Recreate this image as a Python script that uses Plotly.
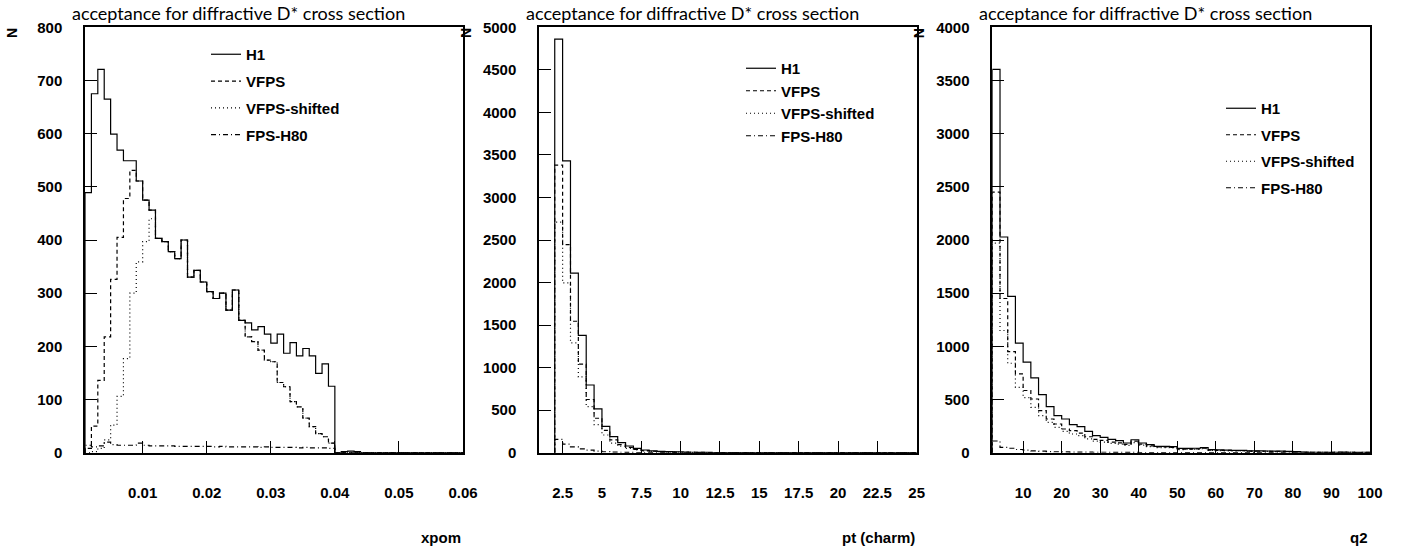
import numpy as np
import plotly.graph_objects as go

# ---------------- data ----------------
series_names = ["H1", "VFPS", "VFPS-shifted", "FPS-H80"]

# xpom: bins of 0.001 starting at 0.001 (59 bins up to 0.06)
xpom_lo, xpom_bw, xpom_nb = 0.001, 0.001, 59
xpom_h1 = [489, 675, 721, 665, 599, 569, 549, 549, 511, 475, 456, 403, 397, 378, 365, 400, 330, 343,
           321, 303, 290, 300, 268, 306, 249, 244, 231, 237, 223, 206, 223, 187, 207, 182, 196, 182,
           149, 167, 125, 0, 2, 3, 2]
xpom_vfps = [8, 50, 136, 218, 326, 405, 478, 531, 511, 475, 456, 403, 397, 378, 365, 400, 330, 343,
             321, 303, 290, 300, 268, 306, 249, 218, 209, 193, 174, 171, 132, 124, 96, 86, 65, 49,
             36, 30, 18]
xpom_shift = [0, 2, 8, 24, 52, 106, 177, 300, 359, 397, 440, 403, 397, 378, 365, 400, 330, 343,
              321, 303, 290, 300, 268, 306, 249, 218, 209, 193, 174, 171, 132, 124, 96, 86, 65, 49,
              36, 30, 18]
xpom_fps = [14, 11, 13, 20, 15, 14, 14, 14, 18, 14, 13, 13, 13, 13, 12, 12, 12, 12, 12, 12, 11, 12,
            11, 11, 11, 11, 11, 10, 11, 10, 10, 10, 10, 9, 10, 9, 9, 9, 8]

# pt (charm): bins of 0.5 starting at 2.0 (46 bins up to 25)
pt_lo, pt_bw, pt_nb = 2.0, 0.5, 46
pt_h1 = [4860, 3430, 2110, 1380, 796, 515, 310, 188, 118, 79, 51, 32, 22, 15, 12, 10, 8, 5, 4, 3,
         2, 2, 1, 1]
pt_vfps = [3380, 2445, 1545, 1040, 625, 405, 262, 150, 95, 62, 40, 25, 17, 12, 9, 7, 6, 4, 3, 2,
           2, 1, 1]
pt_shift = [2710, 1995, 1290, 892, 541, 330, 208, 112, 78, 50, 32, 20, 14, 10, 7, 6, 5, 3, 2, 2,
            1, 1]
pt_fps = [157, 100, 68, 45, 30, 18, 11, 7, 5, 3, 2, 1, 1, 1]

# q2: bins of 2 starting at 2 (49 bins up to 100)
q2_lo, q2_bw, q2_nb = 2.0, 2.0, 49
q2_h1 = [3604, 2028, 1469, 1030, 851, 703, 546, 433, 348, 317, 264, 245, 201, 160, 144, 125, 113,
         91, 122, 91, 75, 60, 60, 58, 40, 40, 42, 48, 28, 26, 24, 22, 22, 18, 17, 16, 15, 15, 12,
         10, 5, 4, 4, 3, 4, 5, 4, 3, 4]
q2_vfps = [2450, 1450, 950, 741, 585, 505, 396, 317, 270, 223, 207, 185, 150, 125, 115, 100, 92,
           78, 108, 80, 64, 54, 54, 51, 33, 34, 36, 42, 24, 22, 21, 19, 19, 15, 15, 14, 13, 13, 10,
           8, 4, 3, 3, 3, 3, 4, 3, 2, 3]
q2_shift = [1970, 1149, 841, 615, 518, 427, 348, 286, 238, 201, 176, 160, 130, 108, 100, 88, 80,
            68, 95, 72, 58, 48, 48, 46, 29, 30, 32, 37, 21, 19, 18, 17, 17, 13, 13, 12, 11, 11, 9,
            7, 4, 3, 3, 2, 3, 3, 3, 2, 2]
q2_fps = [110, 50, 42, 30, 24, 18, 14, 11, 9, 8, 6, 5, 5, 4, 4, 3, 3, 3, 3, 2, 2, 2, 2, 2, 1, 1,
          1, 1, 1, 1, 1, 1, 1, 1, 0, 1]

xpom_ticks = [0.01, 0.02, 0.03, 0.04, 0.05, 0.06]
xpom_ticktext = ["0.01", "0.02", "0.03", "0.04", "0.05", "0.06"]
pt_ticks = [2.5, 5, 7.5, 10, 12.5, 15, 17.5, 20, 22.5, 25]
pt_ticktext = ["2.5", "5", "7.5", "10", "12.5", "15", "17.5", "20", "22.5", "25"]
q2_ticks = [10, 20, 30, 40, 50, 60, 70, 80, 90, 100]
q2_ticktext = ["10", "20", "30", "40", "50", "60", "70", "80", "90", "100"]

axis_titles = ["xpom", "pt (charm)", "q2"]
plot_title = "acceptance for diffractive D* cross section"

# ---------------- figure ----------------
W, H = 1417, 547
FONT = "Liberation Sans, Arial, Helvetica, sans-serif"
dashes = ["solid", "4px,3px", "1px,3px", "5px,3px,1px,3px"]


def step(lo, bw, nb, vals):
    v = list(vals) + [0] * (nb - len(vals))
    edges = lo + bw * np.arange(nb + 1)
    xs = [edges[0]] + list(edges[:-1]) + [edges[-1], edges[-1]]
    ys = [0] + v + [v[-1], 0]
    return xs, ys


panels = [
    dict(lo=xpom_lo, bw=xpom_bw, nb=xpom_nb, data=[xpom_h1, xpom_vfps, xpom_shift, xpom_fps],
         xr=[0.001, 0.06], yr=[0, 800], ydt=100, tv=xpom_ticks, tt=xpom_ticktext),
    dict(lo=pt_lo, bw=pt_bw, nb=pt_nb, data=[pt_h1, pt_vfps, pt_shift, pt_fps],
         xr=[1, 25], yr=[0, 5000], ydt=500, tv=pt_ticks, tt=pt_ticktext),
    dict(lo=q2_lo, bw=q2_bw, nb=q2_nb, data=[q2_h1, q2_vfps, q2_shift, q2_fps],
         xr=[2, 100], yr=[0, 4000], ydt=500, tv=q2_ticks, tt=q2_ticktext),
]

lefts = [85, 539, 992.3]
rights = [463, 916.7, 1370]
ybot, ytop = 452.7, 27.3
legend_pos = [(206, 38), (741, 52), (1221, 92)]
legend_gap = [4.3, 0, 4.0]

fig = go.Figure()
layout = dict(width=W, height=H, margin=dict(l=0, r=0, t=0, b=0, pad=0, autoexpand=False),
              paper_bgcolor="white", plot_bgcolor="white", showlegend=True)
annotations = []

for i, p in enumerate(panels):
    sfx = "" if i == 0 else str(i + 1)
    leg = "legend" if i == 0 else "legend" + str(i + 1)
    for k, vals in enumerate(p["data"]):
        xs, ys = step(p["lo"], p["bw"], p["nb"], vals)
        fig.add_trace(go.Scatter(
            x=xs, y=ys, mode="lines", line=dict(color="black", width=1.2, dash=dashes[k], shape="hv"),
            name=series_names[k], xaxis="x" + sfx, yaxis="y" + sfx, legend=leg,
            legendgroup=f"p{i}s{k}", hoverinfo="skip"))
    common = dict(showgrid=False, zeroline=False, showline=True, linecolor="black", linewidth=1.5,
                  mirror=True, ticks="inside", tickcolor="black", tickwidth=1, automargin=False,
                  tickfont=dict(family=FONT, size=15, color="black", weight="bold"))
    layout["xaxis" + sfx] = dict(domain=[lefts[i] / W, rights[i] / W], range=p["xr"],
                                 anchor="y" + sfx, tickvals=p["tv"], ticktext=p["tt"],
                                 ticklen=12, ticklabelstandoff=26, **common)
    layout["yaxis" + sfx] = dict(domain=[1 - ybot / H, 1 - ytop / H], range=p["yr"],
                                 anchor="x" + sfx, dtick=p["ydt"], tick0=0, ticklen=12,
                                 ticklabelstandoff=18, **common)
    lx, ly = legend_pos[i]
    layout[leg] = dict(x=lx / W, y=1 - ly / H, xanchor="left", yanchor="top",
                       bgcolor="rgba(0,0,0,0)", borderwidth=0, traceorder="grouped",
                       tracegroupgap=legend_gap[i],
                       font=dict(family=FONT, size=15, color="black", weight="bold"))
    annotations.append(dict(text=plot_title, xref="paper", yref="paper", x=(lefts[i] - 15) / W,
                            y=1 - 13 / H, xanchor="left", yanchor="middle", showarrow=False,
                            font=dict(family="Lato, DejaVu Sans, sans-serif", size=18, color="black")))
    annotations.append(dict(text="N", xref="paper", yref="paper", x=(lefts[i] - 73) / W,
                            y=1 - 33 / H, xanchor="center", yanchor="middle", showarrow=False,
                            textangle=-90,
                            font=dict(family=FONT, size=14, color="black", weight="bold")))
    annotations.append(dict(text=axis_titles[i], xref="paper", yref="paper", x=rights[i] / W,
                            y=1 - 537 / H, xanchor="right", yanchor="middle", showarrow=False,
                            font=dict(family=FONT, size=15, color="black", weight="bold")))

layout["annotations"] = annotations
fig.update_layout(**layout)
fig.write_html("out.html", config={"displayModeBar": False},
               post_script="document.body.style.margin='0';document.body.style.overflow='hidden';")
